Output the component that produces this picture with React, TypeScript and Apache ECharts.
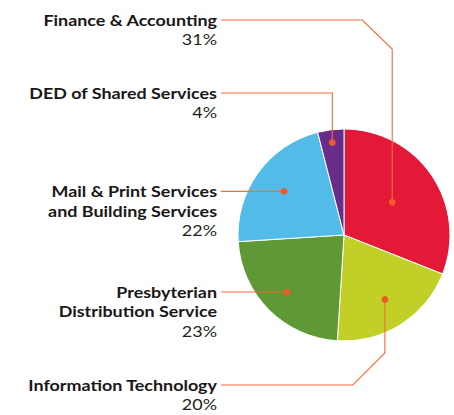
import React, { useEffect, useRef } from "react";
import * as echarts from "echarts";

const categories = [
  "Finance & Accounting",
  "Information Technology",
  "Presbyterian Distribution Service",
  "Mail & Print Services and Building Services",
  "DED of Shared Services",
];
const values = [31, 20, 23, 22, 4];
const labelLines = [
  ["Finance & Accounting"],
  ["Information Technology"],
  ["Presbyterian", "Distribution Service"],
  ["Mail & Print Services", "and Building Services"],
  ["DED of Shared Services"],
];
const colors = ["#e31937", "#c2cf26", "#5e9935", "#53bbe8", "#692c8b"];

// annotation layout (positions only, not data)
const CX = 344;
const CY = 235;
const R = 106;
const TEXT_RIGHT = 217;
const LINE_START = 221;
const LINE_H = 19.5;
const layout = [
  { frac: 0.55, route: "diag-down", labelY: 20 },
  { frac: 0.72, route: "diag-up", labelY: 385 },
  { frac: 0.76, route: "h", labelY: 0 },
  { frac: 0.7, route: "h", labelY: 0 },
  { frac: 0.88, route: "v", labelY: 93 },
];

const LEADER = "#f26b3a";
const DOT = "#f05a28";
const FONT = "Lato, 'Open Sans', sans-serif";

export default function App() {
  const ref = useRef<HTMLDivElement>(null);
  useEffect(() => {
    if (!ref.current) return;
    const chart = echarts.init(ref.current, null, { renderer: "svg" });
    const total = values.reduce((a, b) => a + b, 0);
    const graphics: any[] = [];
    let acc = 0;
    values.forEach((v, i) => {
      const mid = ((acc + v / 2) / total) * Math.PI * 2;
      acc += v;
      const L = layout[i];
      const r = R * L.frac;
      const dx = CX + Math.sin(mid) * r;
      const dy = CY - Math.cos(mid) * r;
      const ly = L.route === "h" ? dy : L.labelY;
      let pts: number[][] = [];
      if (L.route === "h") {
        pts = [[LINE_START, ly], [dx, dy]];
      } else if (L.route === "v") {
        pts = [[LINE_START, ly], [dx, ly], [dx, dy]];
      } else if (L.route === "diag-down") {
        pts = [[LINE_START, ly], [dx - 30, ly], [dx, ly + 29], [dx, dy]];
      } else {
        pts = [[LINE_START, ly], [dx - 32, ly], [dx, ly - 32], [dx, dy]];
      }
      graphics.push({
        type: "polyline",
        z: 100,
        shape: { points: pts },
        style: { stroke: LEADER, lineWidth: 1.1, fill: null },
        silent: true,
      });
      graphics.push({
        type: "circle",
        z: 101,
        shape: { cx: dx, cy: dy, r: 3.4 },
        style: { fill: DOT },
        silent: true,
      });
      const lines = labelLines[i];
      const text =
        lines.map((t) => `{b|${t}}`).join("\n") + `\n{p|${v}%}`;
      graphics.push({
        type: "text",
        z: 100,
        x: TEXT_RIGHT,
        y: ly - LINE_H / 2 - 0.5,
        scaleX: 1.12,
        silent: true,
        style: {
          text,
          align: "right",
          verticalAlign: "top",
          lineHeight: LINE_H,
          rich: {
            b: {
              font: `700 16px ${FONT}`,
              fill: "#1a1718",
              lineHeight: LINE_H,
              align: "right",
            },
            p: {
              font: `400 16px ${FONT}`,
              fill: "#231f20",
              lineHeight: LINE_H,
              align: "right",
            },
          },
        },
      });
    });

    chart.setOption({
      animation: false,
      color: colors,
      series: [
        {
          type: "pie",
          center: [CX, CY],
          radius: R,
          startAngle: 90,
          clockwise: true,
          label: { show: false },
          labelLine: { show: false },
          itemStyle: { borderColor: "#ffffff", borderWidth: 1 },
          emphasis: { disabled: true },
          data: categories.map((name, i) => ({ name, value: values[i] })),
          z: 1,
        },
      ],
      graphic: { elements: graphics },
    });
    return () => chart.dispose();
  }, []);
  return (
    <div
      ref={ref}
      style={{ position: "fixed", left: 0, top: 0, width: 454, height: 415, background: "#fff" }}
    />
  );
}
